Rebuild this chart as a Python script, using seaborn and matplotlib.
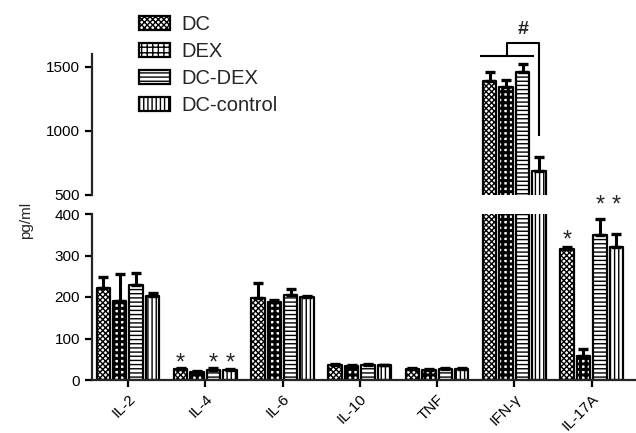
import pandas as pd
import matplotlib
matplotlib.use("Agg")
import matplotlib.pyplot as plt
from matplotlib.patches import Patch
import seaborn as sns

cytokines = ["IL-2", "IL-4", "IL-6", "IL-10", "TNF", "IFN-\u03b3", "IL-17A"]
groups = ["DC", "DEX", "DC-DEX", "DC-control"]

dc_vals = [222, 26, 197, 37, 26, 1391, 316]
dex_vals = [190, 20, 189, 33, 24, 1344, 58]
dcdex_vals = [229, 25, 205, 36, 27, 1461, 349]
ctrl_vals = [202, 25, 199, 35, 26, 688, 320]

dc_err = [26, 3, 36, 2, 2, 70, 4]
dex_err = [65, 2, 3, 2, 2, 54, 17]
dcdex_err = [29, 3, 14, 3, 2, 62, 39]
ctrl_err = [8, 2, 3, 2, 2, 109, 32]

# significance marks: (cytokine index, group index, y)
stars = [(1, 0, 46), (1, 2, 46), (1, 3, 46), (6, 0, 342), (6, 2, 426), (6, 3, 426)]

hatches = ["xxxxxx", "+++", "----", "||||"]
hatch_lw = [1.0, 2.2, 1.0, 1.0]

values = [dc_vals, dex_vals, dcdex_vals, ctrl_vals]
errors = [dc_err, dex_err, dcdex_err, ctrl_err]
rows = []
for g, vals, errs in zip(groups, values, errors):
    for c, v, e in zip(cytokines, vals, errs):
        rows.append({"cytokine": c, "group": g, "value": v, "err": e})
df = pd.DataFrame(rows)

sns.set_style("ticks")
plt.rcParams["font.family"] = ["Liberation Sans", "DejaVu Sans"]
plt.rcParams["hatch.linewidth"] = 1.0

fig = plt.figure(figsize=(6.36, 4.33), dpi=100)
ax_lo = fig.add_axes([92 / 636, 53 / 433, 546 / 636, 166 / 433])
ax_hi = fig.add_axes([92 / 636, 238 / 433, 546 / 636, 141 / 433])


def style_hatch(patch, gi):
    patch.set_hatch(hatches[gi])
    if hasattr(patch, "set_hatch_linewidth"):
        patch.set_hatch_linewidth(hatch_lw[gi])


LW = 1.6
bars_lo = None
for ax in (ax_lo, ax_hi):
    sns.barplot(data=df, x="cytokine", y="value", hue="group", hue_order=groups,
                order=cytokines, palette=["white"] * 4, edgecolor="black",
                linewidth=LW, width=0.85, gap=0.18, legend=False, ax=ax)
    bar_groups = list(ax.containers)
    if bars_lo is None:
        bars_lo = bar_groups
    for gi, cont in enumerate(bar_groups):
        for bar, e in zip(cont, errors[gi]):
            style_hatch(bar, gi)
            bar.set_joinstyle("round")
            xc = bar.get_x() + bar.get_width() / 2
            ax.errorbar(xc, bar.get_height(), yerr=[[0], [e]], fmt="none",
                        ecolor="black", elinewidth=2.2, capsize=3.5,
                        capthick=2.4, zorder=1)
    ax.set_xlim(-0.465, 6.6)
    ax.set_xlabel("")
    ax.set_ylabel("")
    for s in ["top", "right"]:
        ax.spines[s].set_visible(False)
    ax.spines["left"].set_linewidth(LW)
    ax.spines["bottom"].set_linewidth(LW)
    ax.tick_params(axis="both", width=LW, length=5, labelsize=11, colors="black")

ax_lo.set_ylim(0, 400)
ax_lo.set_yticks([0, 100, 200, 300, 400])
ax_lo.set_xticks(range(len(cytokines)))
ax_lo.set_xticklabels(cytokines, rotation=45, ha="right", rotation_mode="anchor")

ax_hi.set_ylim(500, 1600)
ax_hi.set_yticks([500, 1000, 1500])
ax_hi.spines["bottom"].set_visible(False)
ax_hi.tick_params(axis="x", bottom=False, labelbottom=False)

# stars
for ci, gi, y in stars:
    bar = bars_lo[gi][ci]
    ax_lo.text(bar.get_x() + bar.get_width() / 2, y, "*", ha="center",
               va="center_baseline", fontsize=17, clip_on=False)

# bracket for IFN-gamma
ifn = cytokines.index("IFN-\u03b3")
kw = dict(color="black", lw=1.5, clip_on=False, solid_capstyle="butt")
ax_hi.plot([ifn - 0.45, ifn + 0.25], [1586, 1586], **kw)
ax_hi.plot([ifn - 0.1, ifn - 0.1, ifn + 0.32, ifn + 0.32],
           [1586, 1687, 1687, 961], **kw)
ax_hi.text(ifn + 0.11, 1790, "#", ha="center", va="center", fontsize=14,
           fontweight="bold", clip_on=False)

fig.text(26 / 636, 1 - 220 / 433, "pg/ml", rotation=90, ha="center",
         va="center", fontsize=11)

handles = []
for gi, h in enumerate(hatches):
    p = Patch(facecolor="white", edgecolor="black", linewidth=LW)
    style_hatch(p, gi)
    handles.append(p)
fig.legend(handles, groups, loc="upper left", bbox_to_anchor=(139 / 636, 1 - 15 / 433),
           frameon=False, fontsize=14.5, handlelength=1.55, handleheight=0.7,
           handletextpad=0.55, labelspacing=0.4, borderpad=0, borderaxespad=0)

fig.savefig("out.png", dpi=100)
